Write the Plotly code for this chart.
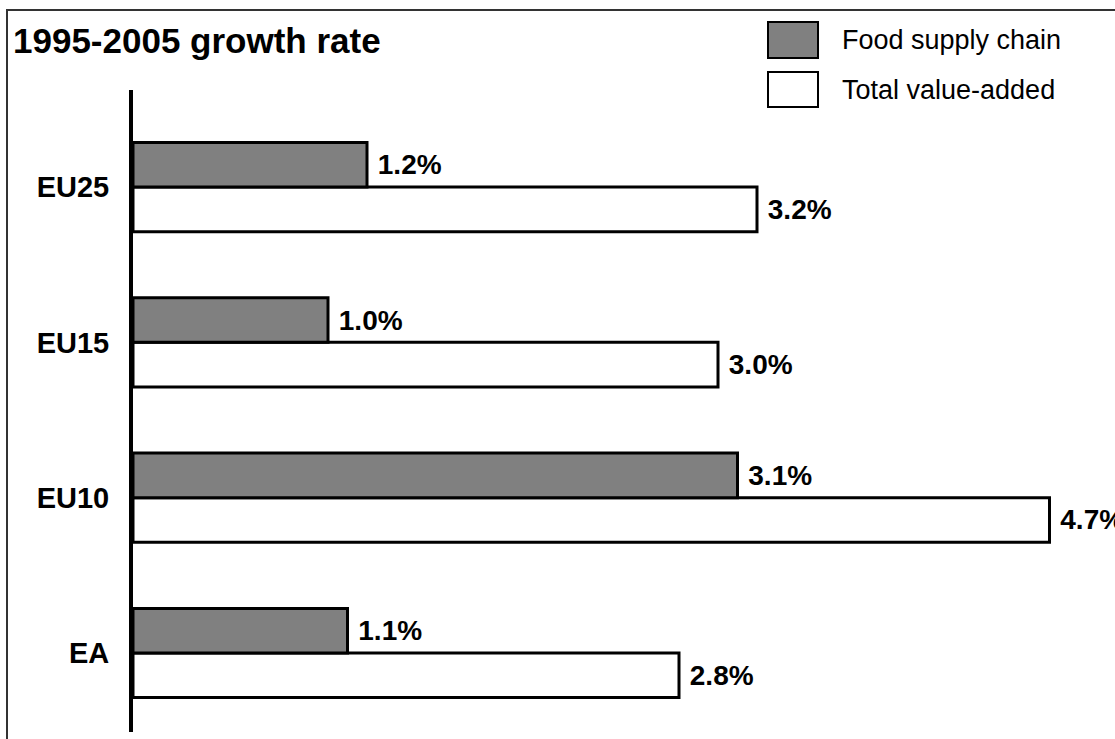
import plotly.graph_objects as go

# Average annual growth, 1995-2005 (%)
regions = ["EU25", "EU15", "EU10", "EA"]
food_supply_chain = [1.2, 1.0, 3.1, 1.1]
total_value_added = [3.2, 3.0, 4.7, 2.8]
series_names = ["Food supply chain", "Total value-added"]
title_text = "1995-2005 growth rate"

W, H = 1115, 739
M_L, M_R, M_T, M_B = 133, 0, 90, 7
PW, PH = W - M_L - M_R, H - M_T - M_B


def px_x(px):
    return (px - M_L) / PW


def px_y(py):
    return (H - M_B - py) / PH


FONT = "Liberation Sans, Arial, sans-serif"
GRAY = "#808080"

fig = go.Figure()

# Plotly stacks grouped horizontal bars bottom-up, so the white series goes first
fig.add_trace(go.Bar(
    y=regions, x=total_value_added, orientation="h", name=series_names[1],
    marker=dict(color="white", line=dict(color="black", width=3)),
    texttemplate=" %{x:.1f}%", textposition="outside", cliponaxis=False,
    constraintext="none",
    textfont=dict(family=FONT, size=28, color="black", weight="bold"),
    showlegend=False,
))
fig.add_trace(go.Bar(
    y=regions, x=food_supply_chain, orientation="h", name=series_names[0],
    marker=dict(color=GRAY, line=dict(color="black", width=3)),
    texttemplate=" %{x:.1f}%", textposition="outside", cliponaxis=False,
    constraintext="none",
    textfont=dict(family=FONT, size=28, color="black", weight="bold"),
    showlegend=False,
))

# Outer frame
fig.add_shape(type="rect", xref="paper", yref="paper",
              x0=px_x(7), x1=px_x(W + 20), y0=px_y(H + 20), y1=px_y(10),
              line=dict(color="#333333", width=2), fillcolor="rgba(0,0,0,0)",
              layer="below")

# Legend boxes and labels
legend_rows = [(GRAY, 22, 58, 40), ("white", 72, 107, 90)]
for name, (fill, top, bottom, mid) in zip(series_names, legend_rows):
    fig.add_shape(type="rect", xref="paper", yref="paper",
                  x0=px_x(768), x1=px_x(818), y0=px_y(bottom), y1=px_y(top),
                  line=dict(color="black", width=2), fillcolor=fill)
    fig.add_annotation(xref="paper", yref="paper", x=px_x(840), y=px_y(mid),
                       xanchor="left", yanchor="middle", showarrow=False,
                       text=name, font=dict(family=FONT, size=27, color="black"))

# Title
fig.add_annotation(xref="paper", yref="paper", x=px_x(11), y=px_y(40),
                   xanchor="left", yanchor="middle", showarrow=False,
                   text="<b>" + title_text + "</b>",
                   font=dict(family=FONT, size=35, color="black"))

fig.update_layout(
    width=W, height=H,
    margin=dict(l=M_L, r=M_R, t=M_T, b=M_B, autoexpand=False),
    paper_bgcolor="white", plot_bgcolor="white",
    barmode="group", bargap=0.426, bargroupgap=0,
    showlegend=False,
    xaxis=dict(range=[0, PW / 195.0], visible=False, fixedrange=True),
    yaxis=dict(
        type="category", categoryorder="array",
        categoryarray=list(reversed(regions)),
        range=[-0.509, 3.625],
        showline=True, linecolor="black", linewidth=4,
        showgrid=False, zeroline=False, ticks="",
        ticklabelstandoff=14,
        tickfont=dict(family=FONT, size=29, color="black", weight="bold"),
    ),
)

fig.write_html("out.html")
